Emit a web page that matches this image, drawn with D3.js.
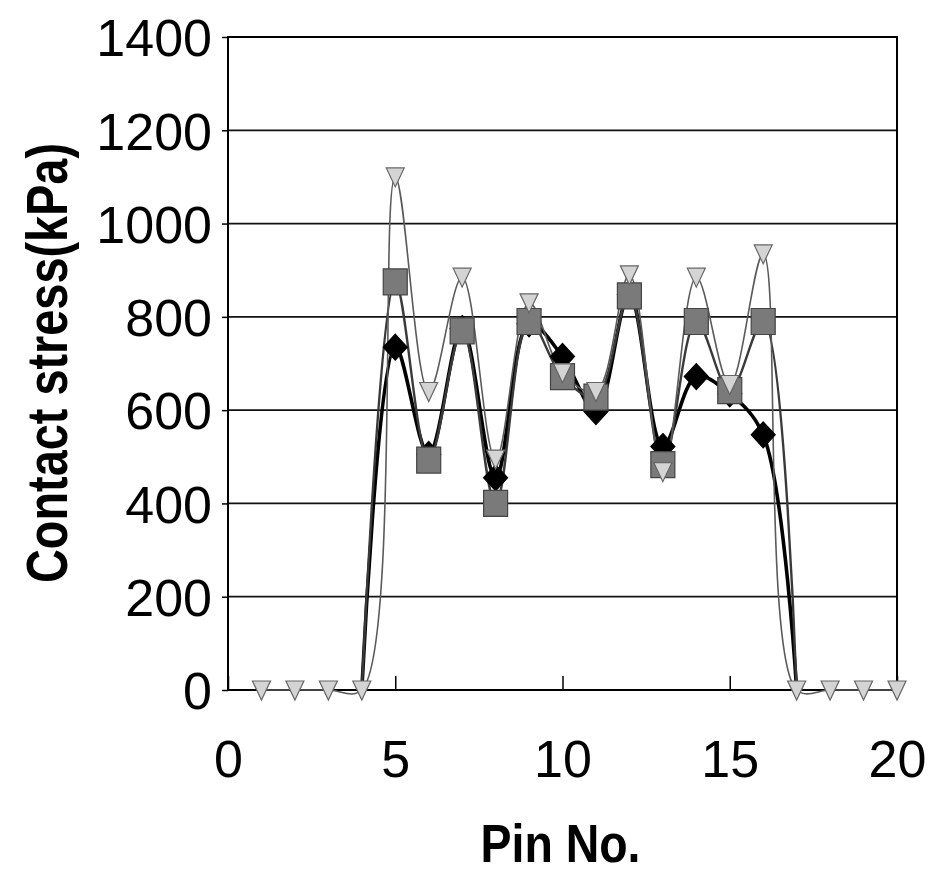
<!DOCTYPE html>
<html>
<head>
<meta charset="utf-8">
<script src="https://cdn.jsdelivr.net/npm/d3@7"></script>
<style>
  html, body { margin: 0; padding: 0; background: #fff; }
  svg { display: block; }
</style>
</head>
<body>
<div id="chart"></div>
<script>
// ---- data ----
const pins = [1,2,3,4,5,6,7,8,9,10,11,12,13,14,15,16,17,18,19,20];
const seriesDiamond  = [null,null,null,0,735,505,775,455,785,715,597,848,522,672,635,547,0,null,null,null];
const seriesSquare   = [null,null,null,0,875,493,770,400,790,672,628,845,483,790,642,790,0,null,null,null];
const seriesTriangle = [0,0,0,0,1100,640,885,495,830,680,640,890,468,885,655,935,0,0,0,0];
const xTicks = [0,5,10,15,20];
const yTicks = [0,200,400,600,800,1000,1200,1400];
const xTitle = "Pin No.";
const yTitle = "Contact stress(kPa)";

// ---- layout ----
const W = 939, H = 876;
const plot = { left: 228, right: 897, top: 37, bottom: 690 };
const font = "'Liberation Sans', Arial, Helvetica, sans-serif";

const svg = d3.select("#chart").append("svg").attr("width", W).attr("height", H);

const x = d3.scaleLinear().domain([0, 20]).range([plot.left, plot.right]);
const y = d3.scaleLinear().domain([0, 1400]).range([plot.bottom, plot.top]);

// gridlines
svg.append("g").selectAll("line").data(yTicks.filter(v => v > 0 && v < 1400)).join("line")
  .attr("x1", plot.left).attr("x2", plot.right)
  .attr("y1", d => y(d)).attr("y2", d => y(d))
  .attr("stroke", "#111").attr("stroke-width", 1.8);

// plot border
svg.append("rect")
  .attr("x", plot.left).attr("y", plot.top)
  .attr("width", plot.right - plot.left).attr("height", plot.bottom - plot.top)
  .attr("fill", "none").attr("stroke", "#000").attr("stroke-width", 2);

// y axis (ticks outward, labels)
const yAxis = d3.axisLeft(y).tickValues(yTicks).tickSize(6).tickPadding(10).tickFormat(d3.format("d"));
const gy = svg.append("g").attr("transform", `translate(${plot.left},0)`).call(yAxis);
gy.select(".domain").remove();
gy.selectAll("line").attr("stroke", "#000").attr("stroke-width", 1.5);
gy.selectAll("text").attr("font-family", font).attr("font-size", 52).attr("fill", "#000")
  .attr("dy", "0.36em");

// x axis (ticks inward, labels)
const xAxis = d3.axisBottom(x).tickValues(xTicks).tickSize(-14).tickPadding(0).tickFormat(d3.format("d"));
const gx = svg.append("g").attr("transform", `translate(0,${plot.bottom})`).call(xAxis);
gx.select(".domain").remove();
gx.selectAll("line").attr("stroke", "#000").attr("stroke-width", 1.5);
gx.selectAll("text").attr("font-family", font).attr("font-size", 52).attr("fill", "#000")
  .attr("y", 87).attr("dy", 0);

// axis titles
svg.append("text")
  .attr("x", x(10) - 2).attr("y", 862)
  .attr("text-anchor", "middle")
  .attr("font-family", font).attr("font-weight", "bold").attr("font-size", 54)
  .attr("textLength", 160).attr("lengthAdjust", "spacingAndGlyphs")
  .text(xTitle);

svg.append("text")
  .attr("transform", "translate(67,363) rotate(-90)")
  .attr("text-anchor", "middle")
  .attr("font-family", font).attr("font-weight", "bold").attr("font-size", 58)
  .attr("textLength", 440).attr("lengthAdjust", "spacingAndGlyphs")
  .text(yTitle);

// ---- series (drawn in order: diamond, square, triangle) ----
function toPoints(vals) {
  return pins.map((p, i) => ({ p, v: vals[i] })).filter(d => d.v !== null);
}
const line = d3.line().x(d => x(d.p)).y(d => y(d.v)).curve(d3.curveCatmullRom.alpha(0.5));

const series = [
  { vals: seriesDiamond,  lineColor: "#000",    lineWidth: 3.6, marker: "diamond", fill: "#000",    stroke: "#000", markZero: false },
  { vals: seriesSquare,   lineColor: "#3a3a3a", lineWidth: 2.4, marker: "square",  fill: "#7a7a7a", stroke: "#444", markZero: false },
  { vals: seriesTriangle, lineColor: "#5a5a5a", lineWidth: 1.6, marker: "triDown", fill: "#d4d4d4", stroke: "#666", markZero: true }
];

const markerPath = {
  diamond: "M0,-13L12,0L0,13L-12,0Z",
  square: "M-12,-13H12V13H-12Z",
  triDown: "M-9,-9H9L0,10Z"
};

const lineLayer = svg.append("g");
const markLayer = svg.append("g");
series.forEach(s => {
  const pts = toPoints(s.vals);
  lineLayer.append("path").datum(pts)
    .attr("d", line).attr("fill", "none")
    .attr("stroke", s.lineColor).attr("stroke-width", s.lineWidth)
    .attr("stroke-linejoin", "round");
});
series.forEach(s => {
  const pts = toPoints(s.vals);
  markLayer.append("g").selectAll("path").data(pts.filter(d => s.markZero || d.v > 0)).join("path")
    .attr("transform", d => `translate(${x(d.p)},${y(d.v)})`)
    .attr("d", markerPath[s.marker])
    .attr("fill", s.fill).attr("stroke", s.stroke).attr("stroke-width", 1.2);
});
</script>
</body>
</html>
